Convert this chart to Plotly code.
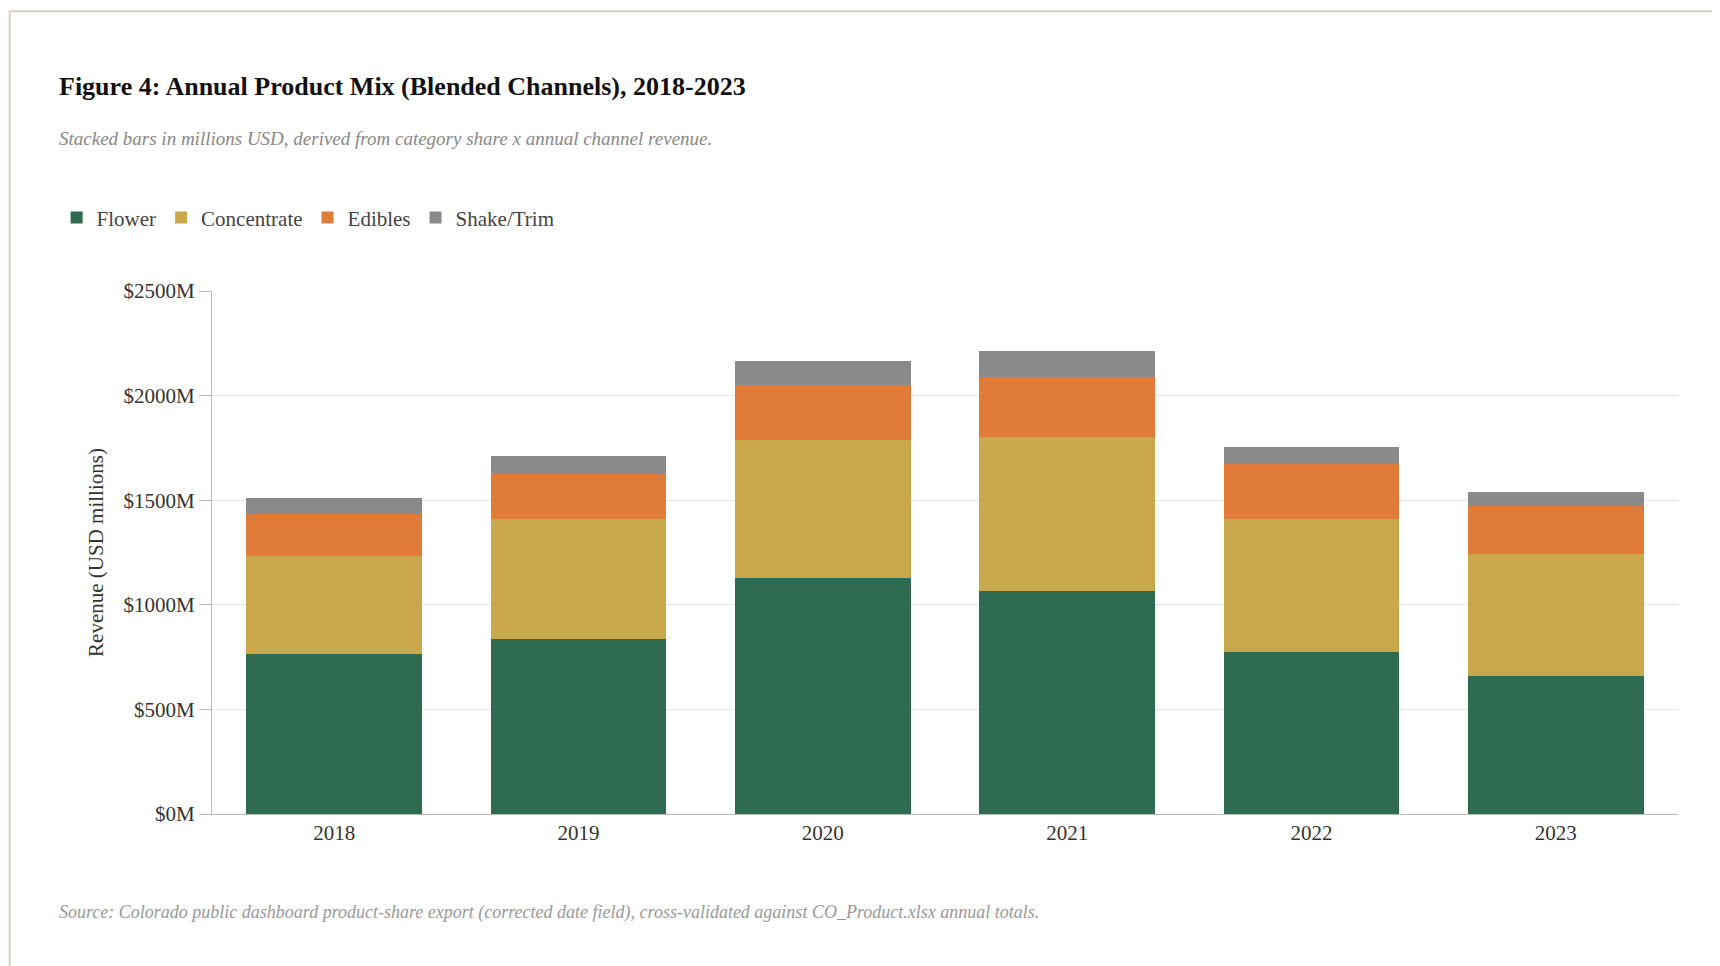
import plotly.graph_objects as go

years = ["2018", "2019", "2020", "2021", "2022", "2023"]
flower = [765, 838, 1127, 1064, 776, 660]
concentrate = [466, 572, 660, 739, 634, 582]
edibles = [205, 214, 262, 288, 262, 230]
shake_trim = [73, 89, 115, 120, 83, 69]

series = [
    ("Flower", flower, "#2e6b50"),
    ("Concentrate", concentrate, "#c9a84b"),
    ("Edibles", edibles, "#e07b3a"),
    ("Shake/Trim", shake_trim, "#8a8a8a"),
]

font = "Liberation Serif, DejaVu Serif, serif"

fig = go.Figure()
for name, vals, color in series:
    fig.add_trace(go.Bar(x=years, y=vals, name=name, marker=dict(color=color, line=dict(width=0)),
                         hovertemplate=name + " %{x}: $%{y}M<extra></extra>"))

fig.update_layout(
    barmode="stack",
    bargap=0.28,
    width=1720, height=966,
    margin=dict(l=204, r=50, t=283, b=160),
    paper_bgcolor="white", plot_bgcolor="white",
    font=dict(family=font, color="#333", size=21),
    legend=dict(orientation="h", x=-0.106, y=1.14, xanchor="left", yanchor="middle",
                font=dict(size=21, color="#444"), itemwidth=30, traceorder="normal"),
    yaxis=dict(range=[0, 2500], dtick=500, tickprefix="$", ticksuffix="M", gridcolor="#e6e6e6",
               showline=True, linecolor="#bbb", ticks="outside", tickcolor="#bbb", ticklen=12,
               title=dict(text="Revenue (USD millions)", font=dict(size=21), standoff=14),
               zeroline=False),
    xaxis=dict(showline=True, linecolor="#bbb", ticks="", tickfont=dict(size=21)),
    shapes=[dict(type="rect", xref="paper", yref="paper", x0=-0.138, x1=1.033, y0=-0.302, y1=1.535,
                 line=dict(color="#d6cfc0", width=2), layer="below")],
    annotations=[
        dict(text="<b>Figure 4: Annual Product Mix (Blended Channels), 2018-2023</b>", xref="paper", yref="paper",
             x=-0.106, y=(806 - 79) / 523, xanchor="left", yanchor="middle", showarrow=False,
             font=dict(size=26, color="#111")),
        dict(text="<i>Stacked bars in millions USD, derived from category share x annual channel revenue.</i>",
             xref="paper", yref="paper", x=-0.106, y=(806 - 131) / 523, xanchor="left", yanchor="middle",
             showarrow=False, font=dict(size=19, color="#888")),
        dict(text="<i>Source: Colorado public dashboard product-share export (corrected date field), cross-validated against CO_Product.xlsx annual totals.</i>",
             xref="paper", yref="paper", x=-0.106, y=(806 - 904) / 523, xanchor="left", yanchor="middle",
             showarrow=False, font=dict(size=18, color="#999")),
    ],
)

fig.write_html("out.html")
